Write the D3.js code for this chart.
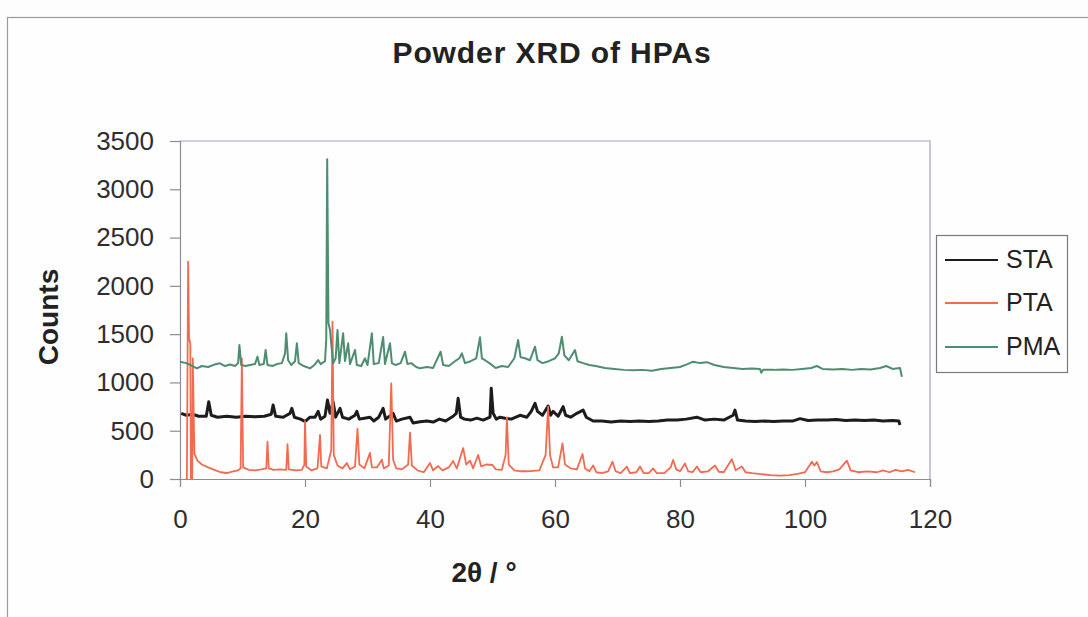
<!DOCTYPE html>
<html>
<head>
<meta charset="utf-8">
<script src="https://cdn.jsdelivr.net/npm/d3@7"></script>
<style>
  html, body { margin: 0; padding: 0; background: #fdfdfd; }
  svg { display: block; font-family: "Liberation Sans", Arial, sans-serif; }
</style>
</head>
<body>
<svg id="chart" width="1088" height="617"></svg>
<script>
// ---- data (2theta in degrees, counts) ----
const seriesNames = ["STA", "PTA", "PMA"];
const seriesColors = ["#1c1c1c", "#f26a50", "#4f8d71"];
const xTicks = [0, 20, 40, 60, 80, 100, 120];
const yTicks = [0, 500, 1000, 1500, 2000, 2500, 3000, 3500];

const staData = [[0.2,680],[1,660],[2,670],[3,650],[4.2,650],[4.6,800],[5.0,660],[6,640],[7.5,650],[9,640],[10.5,650],[12,645],[13.5,650],[14.6,670],[14.9,766],[15.3,650],[16.5,640],[17.6,680],[17.9,732],[18.3,640],[19.3,620],[20,595],[20.8,640],[21.6,640],[22.1,700],[22.5,620],[23.2,650],[23.6,818],[24.0,680],[24.5,800],[24.9,640],[25.6,732],[26.0,640],[27,620],[28.0,660],[28.3,700],[28.7,620],[29.5,630],[30.4,640],[31,600],[31.8,640],[32.5,732],[32.9,620],[34.1,680],[34.6,600],[35.5,620],[36.8,640],[37.3,580],[38.4,593],[39.5,600],[40.5,590],[41.5,620],[42.5,600],[43.7,650],[44.2,680],[44.5,835],[44.9,640],[45.5,620],[46.5,610],[47.5,630],[48.5,610],[49.6,640],[49.8,939],[50.1,680],[50.6,620],[51.2,640],[52,630],[53,620],[54.4,660],[55.5,640],[56.2,700],[56.8,784],[57.2,700],[58,660],[58.9,756],[59.3,660],[59.7,700],[60.5,650],[61.3,749],[61.7,660],[62.5,640],[63.5,680],[64.5,714],[65,640],[66.1,600],[67.5,600],[69,590],[70.5,600],[72,595],[73.5,600],[75,595],[76.5,600],[78,610],[79.5,610],[81,620],[82.7,640],[84,610],[85.5,620],[87,610],[88.5,660],[88.8,714],[89.2,610],[90.5,600],[92,595],[93.5,600],[95,595],[96.5,600],[98,600],[99.2,625],[100.5,605],[102,610],[103.5,610],[105,615],[106.5,605],[108,610],[109.5,605],[111,610],[112.5,600],[114,605],[115.0,600],[115.2,559]];

const ptaData = [[0.9,0],[1.1,0],[1.3,2250],[1.45,1460],[1.65,1400],[1.75,0],[1.95,0],[2.05,1250],[2.3,260],[2.8,190],[3.5,150],[4.5,120],[5.5,95],[6.5,70],[7.5,62],[8.5,80],[9.3,90],[9.7,110],[9.9,1250],[10.1,120],[11,95],[12,90],[13,100],[13.8,110],[14.0,386],[14.2,110],[15,95],[16,100],[17,95],[17.2,360],[17.4,100],[18.5,90],[19.5,95],[19.9,150],[20.0,600],[20.2,130],[21,90],[22,110],[22.4,456],[22.6,130],[23.5,110],[24.2,300],[24.4,1630],[24.6,250],[25.2,140],[26,110],[26.7,165],[27.2,100],[28,130],[28.4,520],[28.7,150],[29.5,110],[30.4,270],[30.7,120],[31.5,120],[32.3,200],[32.6,110],[33.4,140],[33.8,991],[34.1,200],[34.6,110],[35.5,100],[36.5,150],[36.8,480],[37.1,140],[38,90],[39,70],[40,165],[40.5,90],[41.3,134],[42,90],[43,120],[43.7,186],[44.3,110],[45.3,320],[45.8,150],[46.4,190],[46.9,110],[47.7,248],[48.2,130],[49,150],[50,145],[50.5,100],[51.5,95],[52.1,250],[52.3,639],[52.6,150],[53.5,90],[54.5,80],[55.5,80],[56.5,85],[57.5,90],[58.5,250],[58.9,749],[59.2,250],[59.7,120],[60.5,120],[61.2,369],[61.6,150],[62.5,110],[63.5,100],[64.4,259],[64.8,110],[65.5,80],[66.1,140],[66.6,70],[67.5,60],[68.5,80],[69.2,179],[69.7,80],[70.5,60],[71.5,128],[72,60],[73,70],[73.6,130],[74.2,60],[75,60],[75.7,110],[76.3,60],[77.5,60],[78.5,120],[78.9,197],[79.4,100],[80,80],[80.8,160],[81.3,80],[82,70],[82.7,130],[83.3,70],[84.5,80],[85.6,140],[86.2,75],[87,70],[88.3,204],[88.9,90],[89.9,130],[90.5,70],[91.5,60],[93,50],[94.5,40],[96,35],[97.5,40],[99,55],[100,70],[101.1,179],[101.5,140],[101.9,175],[102.5,80],[103.5,70],[104.5,80],[105.5,100],[106.7,190],[107.3,90],[108.5,70],[110,80],[111.5,70],[112.5,90],[113.5,70],[114.5,95],[115.5,80],[116.5,95],[117.6,70]];

const pmaData = [[0,1215],[1,1200],[2,1170],[2.7,1146],[3.5,1170],[4.5,1160],[5.5,1185],[6.4,1198],[7.2,1170],[8,1185],[8.8,1170],[9.3,1200],[9.5,1388],[9.8,1180],[10.5,1170],[11.2,1180],[12.0,1190],[12.4,1267],[12.7,1180],[13.4,1190],[13.7,1336],[14.0,1180],[14.8,1170],[15.5,1190],[16.3,1200],[16.8,1300],[17.0,1509],[17.3,1230],[17.8,1180],[18.4,1220],[18.7,1405],[19.0,1200],[19.8,1170],[20.8,1146],[21.5,1180],[22.1,1232],[22.5,1190],[23.2,1220],[23.4,1450],[23.55,3311],[23.75,1615],[24.0,1543],[24.2,1400],[24.5,1198],[24.9,1250],[25.2,1543],[25.5,1200],[26.1,1509],[26.4,1220],[26.9,1405],[27.2,1190],[28.0,1336],[28.3,1180],[29.0,1170],[29.6,1250],[30.0,1180],[30.7,1509],[31.0,1190],[31.8,1200],[32.5,1470],[32.8,1190],[33.2,1300],[33.6,1405],[33.9,1200],[34.5,1180],[35.3,1200],[36.0,1318],[36.4,1190],[37.0,1200],[37.8,1160],[38.4,1146],[39.5,1160],[40.5,1150],[41.7,1318],[42.1,1180],[43,1170],[44,1220],[44.7,1250],[45.1,1301],[45.6,1200],[46.5,1220],[47.4,1250],[48.0,1467],[48.3,1250],[48.8,1230],[49.5,1200],[50.5,1150],[51.5,1170],[52.5,1160],[53.5,1250],[54.1,1439],[54.5,1260],[55.2,1250],[56.0,1230],[56.8,1370],[57.2,1230],[58,1200],[59,1220],[60,1250],[60.6,1300],[61.1,1474],[61.5,1280],[62.2,1230],[63.2,1336],[63.6,1220],[64.5,1200],[65.5,1180],[66.5,1170],[68,1150],[69.5,1140],[71,1130],[72.5,1125],[74,1130],[75.5,1120],[77,1140],[78.5,1150],[80,1160],[81.2,1190],[82.1,1215],[83.2,1200],[84.3,1210],[85.5,1180],[87,1160],[88.5,1150],[90,1140],[91.5,1145],[92.8,1140],[93.0,1100],[93.3,1130],[95,1130],[96.5,1135],[98,1130],[99.5,1140],[101.0,1150],[101.9,1170],[102.8,1140],[104.5,1135],[106,1140],[107.5,1130],[109,1140],[110.5,1135],[112,1150],[113,1170],[114,1140],[115.2,1150],[115.5,1059]];

const allSeries = [staData, ptaData, pmaData];

// ---- layout ----
const svg = d3.select("#chart");
const plot = { left: 180, right: 930, top: 141, bottom: 479 };

const x = d3.scaleLinear().domain([0, 120]).range([plot.left, plot.right]);
const y = d3.scaleLinear().domain([0, 3500]).range([plot.bottom, plot.top]);

// outer chart frame
svg.append("rect")
  .attr("x", 7.5).attr("y", 17.5)
  .attr("width", 1100).attr("height", 640)
  .attr("fill", "#fefefe").attr("stroke", "#9a9a9a").attr("stroke-width", 1.2);

// title
svg.append("text")
  .attr("x", 552).attr("y", 63)
  .attr("text-anchor", "middle")
  .attr("font-size", 30).attr("font-weight", "bold")
  .attr("letter-spacing", 0.9)
  .attr("fill", "#222")
  .text("Powder XRD of HPAs");

// plot border (top and right)
svg.append("path")
  .attr("d", `M${plot.left},${plot.top}H${plot.right}V${plot.bottom}`)
  .attr("fill", "none").attr("stroke", "#a4a4bc").attr("stroke-width", 1.2);

// axes
const yAxis = d3.axisLeft(y).tickValues(yTicks).tickFormat(d3.format("d")).tickSize(10).tickPadding(16);
const gy = svg.append("g").attr("transform", `translate(${plot.left},0)`).call(yAxis);
const xAxis = d3.axisBottom(x).tickValues(xTicks).tickFormat(d3.format("d")).tickSize(8).tickPadding(23);
const gx = svg.append("g").attr("transform", `translate(0,${plot.bottom})`).call(xAxis);

[gx, gy].forEach(g => {
  g.select(".domain").attr("stroke", "#8c8c9c").attr("stroke-width", 1.2);
  g.selectAll(".tick line").attr("stroke", "#8c8c9c").attr("stroke-width", 1.2);
  g.selectAll(".tick text")
    .attr("font-size", 26)
    .attr("font-family", "Liberation Sans, Arial, sans-serif")
    .attr("fill", "#2e2e2e");
});

// axis titles
svg.append("text")
  .attr("transform", "translate(58,317) rotate(-90)")
  .attr("text-anchor", "middle")
  .attr("font-size", 28).attr("font-weight", "bold")
  .attr("fill", "#222")
  .text("Counts");

svg.append("text")
  .attr("x", 484).attr("y", 582)
  .attr("text-anchor", "middle")
  .attr("font-size", 28).attr("font-weight", "bold")
  .attr("fill", "#222")
  .text("2θ / °");

// series lines
const line = d3.line().x(d => x(d[0])).y(d => y(d[1]));
const widths = [3, 1.8, 2.0];
allSeries.forEach((data, i) => {
  svg.append("path")
    .datum(data)
    .attr("fill", "none")
    .attr("stroke", seriesColors[i])
    .attr("stroke-width", widths[i])
    .attr("stroke-linejoin", "round")
    .attr("d", line);
});

// legend
const legend = svg.append("g");
legend.append("rect")
  .attr("x", 936.5).attr("y", 235.5).attr("width", 131).attr("height", 137)
  .attr("fill", "#fefefe").attr("stroke", "#7a7a7a").attr("stroke-width", 1.2);
const legendY = [260, 303, 347];
seriesNames.forEach((name, i) => {
  legend.append("line")
    .attr("x1", 945).attr("x2", 998)
    .attr("y1", legendY[i]).attr("y2", legendY[i])
    .attr("stroke", seriesColors[i]).attr("stroke-width", 2);
  legend.append("text")
    .attr("x", 1006).attr("y", legendY[i] + 8)
    .attr("font-size", 25).attr("fill", "#222")
    .text(name);
});
</script>
</body>
</html>
